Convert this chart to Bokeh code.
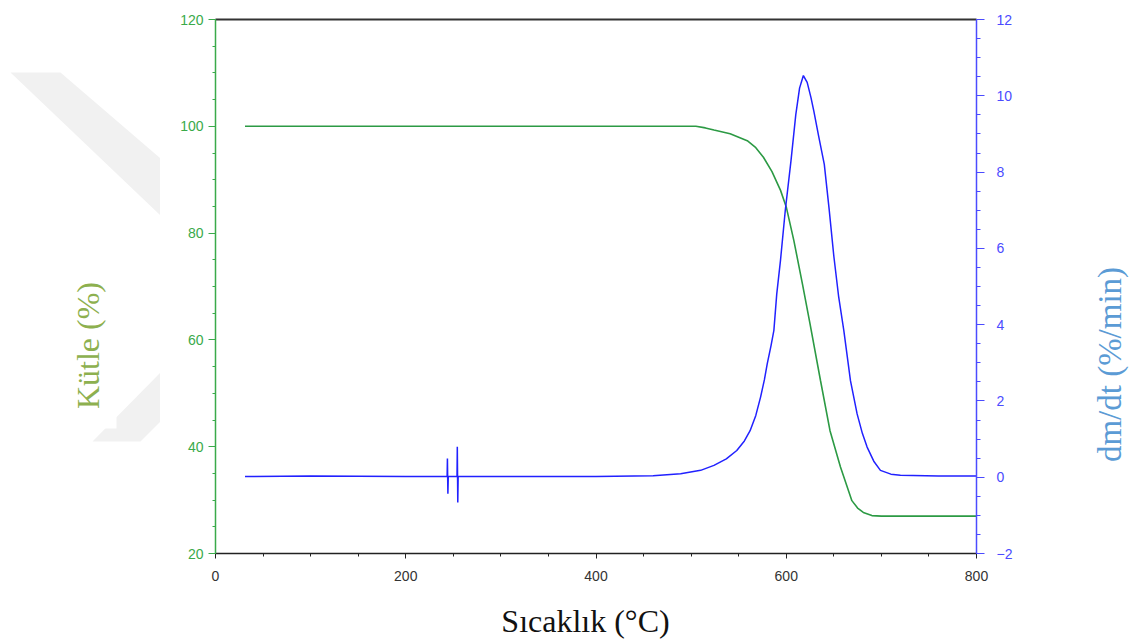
import math
from bokeh.plotting import figure
from bokeh.layouts import row, column
from bokeh.models import (Range1d, LinearAxis, SingleIntervalTicker, FixedTicker)
from bokeh.core.properties import value
from bokeh.embed import file_html
from bokeh.resources import INLINE

# ---- data ----
mass_temp = [31, 100, 200, 300, 400, 480, 505, 515, 524, 541, 559, 568, 576, 585,
             594, 600, 608, 617, 625, 636, 646, 657, 669, 675, 681, 690, 700, 800]
mass_pct = [100, 100, 100, 100, 100, 100, 100, 99.7, 99.3, 98.6, 97.3, 96.0, 94.2, 91.5,
            88.0, 84.9, 78.6, 70.5, 63.0, 52.4, 43.0, 36.2, 29.9, 28.5, 27.7, 27.1, 27.0, 27.0]

dtg_temp = [31, 100, 200, 243.5, 243.8, 244.3, 244.7, 253.9, 254.2, 254.7, 255.1,
            300, 400, 460, 489, 510, 524, 537, 548, 556, 562, 568, 573, 577, 580,
            584, 587, 590, 594, 599, 605, 610, 614, 618, 622, 626, 629, 634, 640,
            645, 650, 655, 660.5, 667.5, 674.5, 680, 685, 692, 699, 710, 720, 760, 800]
dtg_rate = [0.02, 0.03, 0.02, 0.02, 0.49, -0.43, 0.02, 0.02, 0.80, -0.66, 0.02,
            0.02, 0.02, 0.04, 0.09, 0.18, 0.31, 0.48, 0.70, 0.95, 1.22, 1.62, 2.10, 2.55, 2.97,
            3.45, 3.85, 4.8, 5.7, 7.0, 8.3, 9.5, 10.2, 10.53, 10.35, 9.95, 9.6, 8.95, 8.2,
            7.05, 5.8, 4.75, 3.85, 2.53, 1.66, 1.15, 0.79, 0.42, 0.18, 0.08, 0.05, 0.03, 0.03]

x_label = "Sıcaklık (°C)"
y_left_label = "Kütle (%)"
y_right_label = "dm/dt (%/min)"

GREEN_AX = "#3aaa4a"
GREEN_LINE = "#2c9a44"
BLUE_AX = "#4b4bff"
BLUE_LINE = "#2121ff"
TICK_FONT = "Liberation Sans"
LABEL_FONT = "Liberation Serif"

W = 1134
H_TOP = 591          # height of the row holding the chart
H_BOT = 641 - H_TOP  # strip holding the x-axis title
TOP_B = 19
BOT_B = 38
LEFT_W = 160
MAIN_W = 910
RIGHT_W = W - LEFT_W - MAIN_W


def strip(width, height, x0, y0, y1, top_b, bot_b):
    # helper figure whose data units are page pixels
    f = figure(width=width, height=height, x_range=Range1d(x0, x0 + width),
               y_range=Range1d(y1, y0),
               output_backend="svg", toolbar_location=None, x_axis_type=None, y_axis_type=None,
               min_border_left=0, min_border_right=0, min_border_top=top_b, min_border_bottom=bot_b)
    f.outline_line_color = None
    f.xgrid.visible = False
    f.ygrid.visible = False
    f.background_fill_color = "white"
    f.border_fill_color = "white"
    return f


# ---- left strip: faint background watermark + y-axis title ----
left = strip(LEFT_W, H_TOP, 0, TOP_B, H_TOP - BOT_B, TOP_B, BOT_B)
left.patches(xs=[[10, 60, 160, 160], [92, 140, 160, 160]],
             ys=[[72, 72, 158, 215], [441, 441, 421, 372]],
             fill_color="#f1f1f1", line_color=None)
left.quad(left=[70], right=[116], top=[262], bottom=[428], fill_color="white", line_color=None)
left.text(x=[87], y=[345], text=[y_left_label], angle=math.pi / 2,
          text_align="center", text_baseline="middle",
          text_font=value(LABEL_FONT), text_font_size="32px", text_color="#8db04f")

# ---- main plot ----
p = figure(width=MAIN_W, height=H_TOP, x_range=Range1d(0, 800), y_range=Range1d(20, 120),
           output_backend="svg", toolbar_location=None,
           min_border_left=55, min_border_right=94, min_border_top=TOP_B, min_border_bottom=BOT_B,
           x_axis_type=None, y_axis_type=None)
p.extra_y_ranges = {"dtg": Range1d(-2, 12)}
p.outline_line_color = None
p.xgrid.visible = False
p.ygrid.visible = False
p.background_fill_color = "white"
p.border_fill_color = "white"


def style(ax, color, label_color, tick_out, minor_out, standoff):
    ax.axis_line_color = color
    ax.axis_line_width = 1.5
    ax.major_tick_line_color = color
    ax.minor_tick_line_color = color
    ax.major_tick_out = tick_out
    ax.major_tick_in = 0
    ax.minor_tick_out = minor_out
    ax.minor_tick_in = 0
    ax.major_label_text_color = label_color
    ax.major_label_text_font = TICK_FONT
    ax.major_label_text_font_size = "14px"
    ax.major_label_standoff = standoff


ly = LinearAxis(ticker=SingleIntervalTicker(interval=20, num_minor_ticks=4))
style(ly, GREEN_AX, GREEN_AX, 7, 3, 5)
p.add_layout(ly, "left")

ry = LinearAxis(y_range_name="dtg", ticker=SingleIntervalTicker(interval=2, num_minor_ticks=4))
style(ry, BLUE_AX, BLUE_AX, 8, 4, 12)
p.add_layout(ry, "right")

bx = LinearAxis(ticker=SingleIntervalTicker(interval=200, num_minor_ticks=4))
style(bx, "#222222", "#333333", 5, 3, 12)
p.add_layout(bx, "below")

tx = LinearAxis(ticker=FixedTicker(ticks=[]))
tx.axis_line_color = "#333333"
tx.axis_line_width = 2
tx.major_label_text_font_size = "0px"
p.add_layout(tx, "above")

p.line(mass_temp, mass_pct, line_color=GREEN_LINE, line_width=1.6)
p.line(dtg_temp, dtg_rate, line_color=BLUE_LINE, line_width=1.5, y_range_name="dtg")

# ---- right strip: secondary y-axis title ----
right = strip(RIGHT_W, H_TOP, LEFT_W + MAIN_W, TOP_B, H_TOP - BOT_B, TOP_B, BOT_B)
right.text(x=[1109], y=[364], text=[y_right_label], angle=math.pi / 2,
           text_align="center", text_baseline="middle",
           text_font=value(LABEL_FONT), text_font_size="33px", text_color="#5b9bd5")

# ---- bottom strip: x-axis title ----
bottom = strip(W, H_BOT, 0, H_TOP, 641, 0, 0)
bottom.text(x=[585], y=[620], text=[x_label],
            text_align="center", text_baseline="middle",
            text_font=value(LABEL_FONT), text_font_size="32px", text_color="#111111")

layout = column(row(left, p, right, spacing=0), bottom, spacing=0)
open("out.html", "w").write(file_html(layout, INLINE))
